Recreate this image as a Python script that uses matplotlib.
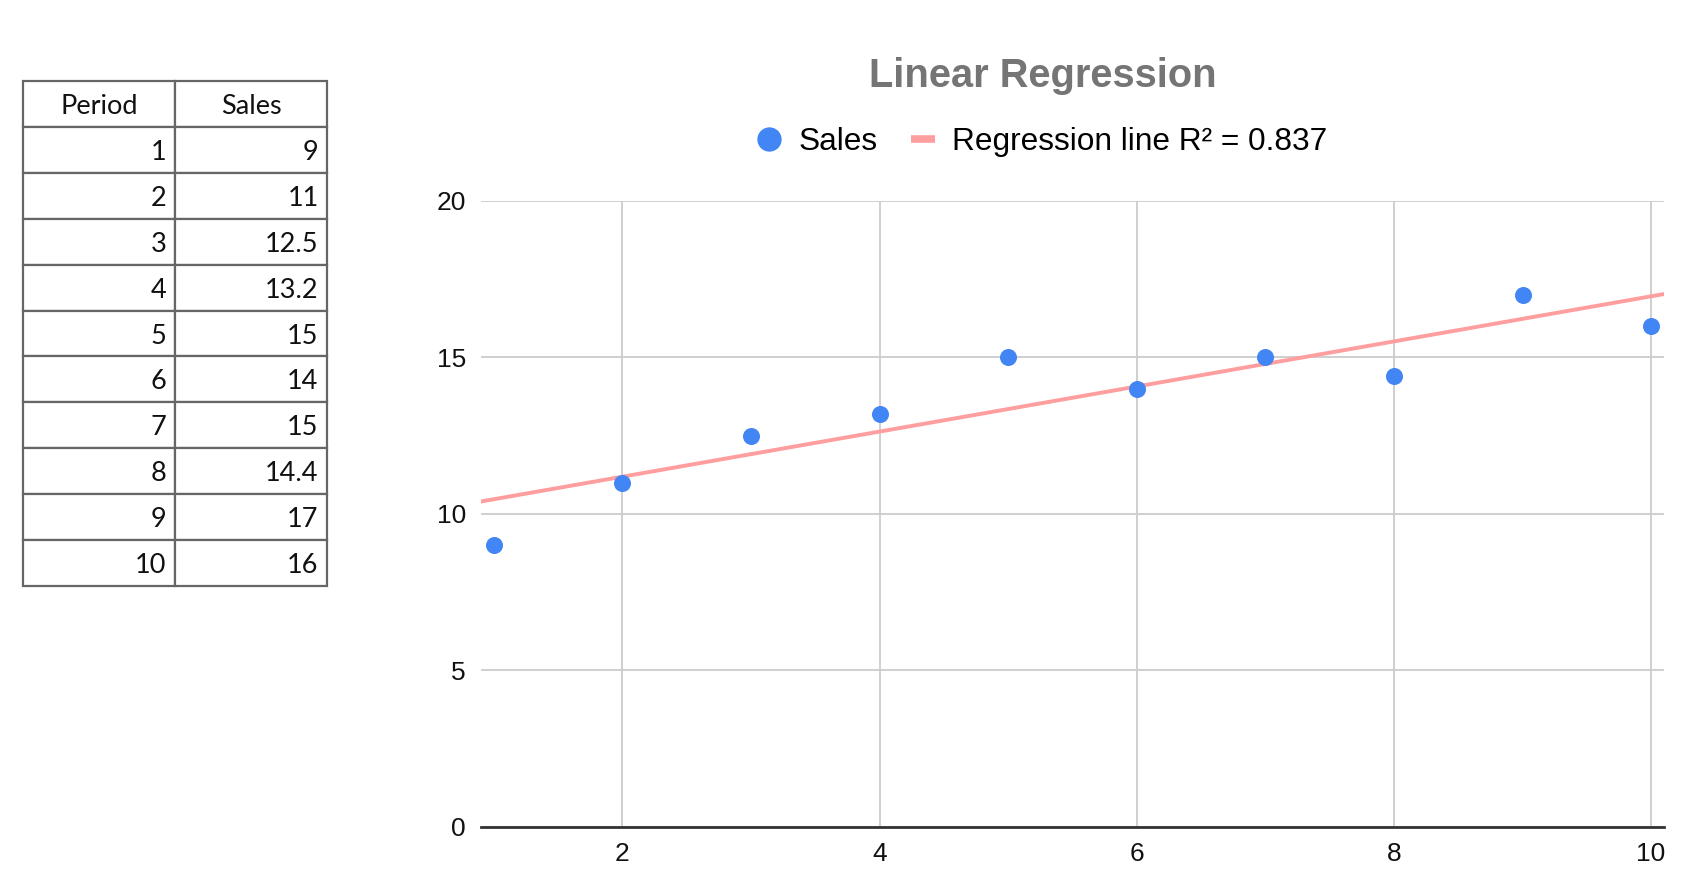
import numpy as np
import matplotlib
matplotlib.use("Agg")
import matplotlib.pyplot as plt
from matplotlib.lines import Line2D

period = [1, 2, 3, 4, 5, 6, 7, 8, 9, 10]
sales = [9, 11, 12.5, 13.2, 15, 14, 15, 14.4, 17, 16]
sales_txt = ["9", "11", "12.5", "13.2", "15", "14", "15", "14.4", "17", "16"]
col_labels = ["Period", "Sales"]
x_ticks = [2, 4, 6, 8, 10]
y_ticks = [0, 5, 10, 15, 20]

blue = "#4285f4"
pink = "#ff9e9e"

plt.rcParams['font.family'] = ['Liberation Sans', 'DejaVu Sans']

fig = plt.figure(figsize=(17.04, 8.9), dpi=100)

# table on the left
tax = fig.add_axes([23 / 1704, 1 - 586 / 890, 304 / 1704, 505 / 890])
tax.axis("off")
cells = [[str(p), s] for p, s in zip(period, sales_txt)]
tb = tax.table(cellText=cells, colLabels=col_labels, bbox=[0, 0, 1, 1],
               cellLoc="right")
tb.auto_set_font_size(False)
for (r, c), cell in tb.get_celld().items():
    cell.set_edgecolor("#666666")
    cell.set_linewidth(1.6)
    cell.PAD = 0.055
    t = cell.get_text()
    t.set_fontfamily("Lato")
    t.set_fontsize(19.5)
    t.set_color("#111111")
    t.set_verticalalignment("center_baseline")
    if r == 0:
        t.set_horizontalalignment("center")

# chart
ax = fig.add_axes([0.2823, 0.0711, 0.6942, 0.7031])
slope, icpt = np.polyfit(period, sales, 1)
pred = slope * np.array(period) + icpt
r2 = 1 - np.sum((np.array(sales) - pred) ** 2) / np.sum((np.array(sales) - np.mean(sales)) ** 2)

xl = np.array([0.9, 10.1])
ax.plot(xl, slope * xl + icpt, color=pink, lw=2.8, zorder=2)
ax.scatter(period, sales, s=150, color=blue, zorder=3, clip_on=False, linewidths=0)

ax.set_xlim(xl)
ax.set_ylim(0, 20)
ax.set_xticks(x_ticks)
ax.set_yticks(y_ticks)
ax.grid(color="#cccccc", lw=1.3, zorder=0)
ax.set_axisbelow(True)
for s in ["top", "right", "left"]:
    ax.spines[s].set_visible(False)
ax.spines["bottom"].set_color("#333333")
ax.spines["bottom"].set_linewidth(2)
ax.spines["bottom"].set_zorder(1)
ax.tick_params(length=0, labelsize=19, colors="#111111")
ax.tick_params(axis="x", pad=11)
ax.tick_params(axis="y", pad=11)

fig.text(1043 / 1704, 1 - 76 / 890, "Linear Regression", ha="center", va="center",
         fontsize=28.7, fontweight="bold", color="#757575")

handles = [Line2D([], [], ls="", marker="o", ms=16.5, color=blue),
           Line2D([], [], color=pink, lw=5.5, solid_capstyle="butt")]
fig.legend(handles, ["Sales", "Regression line R\u00b2 = %.3f" % r2],
           loc="center", bbox_to_anchor=(1042 / 1704, 1 - 142 / 890), ncol=2,
           frameon=False, fontsize=22.8, handlelength=0.77, handletextpad=0.54,
           columnspacing=1.06)

fig.savefig("out.png", dpi=100)
